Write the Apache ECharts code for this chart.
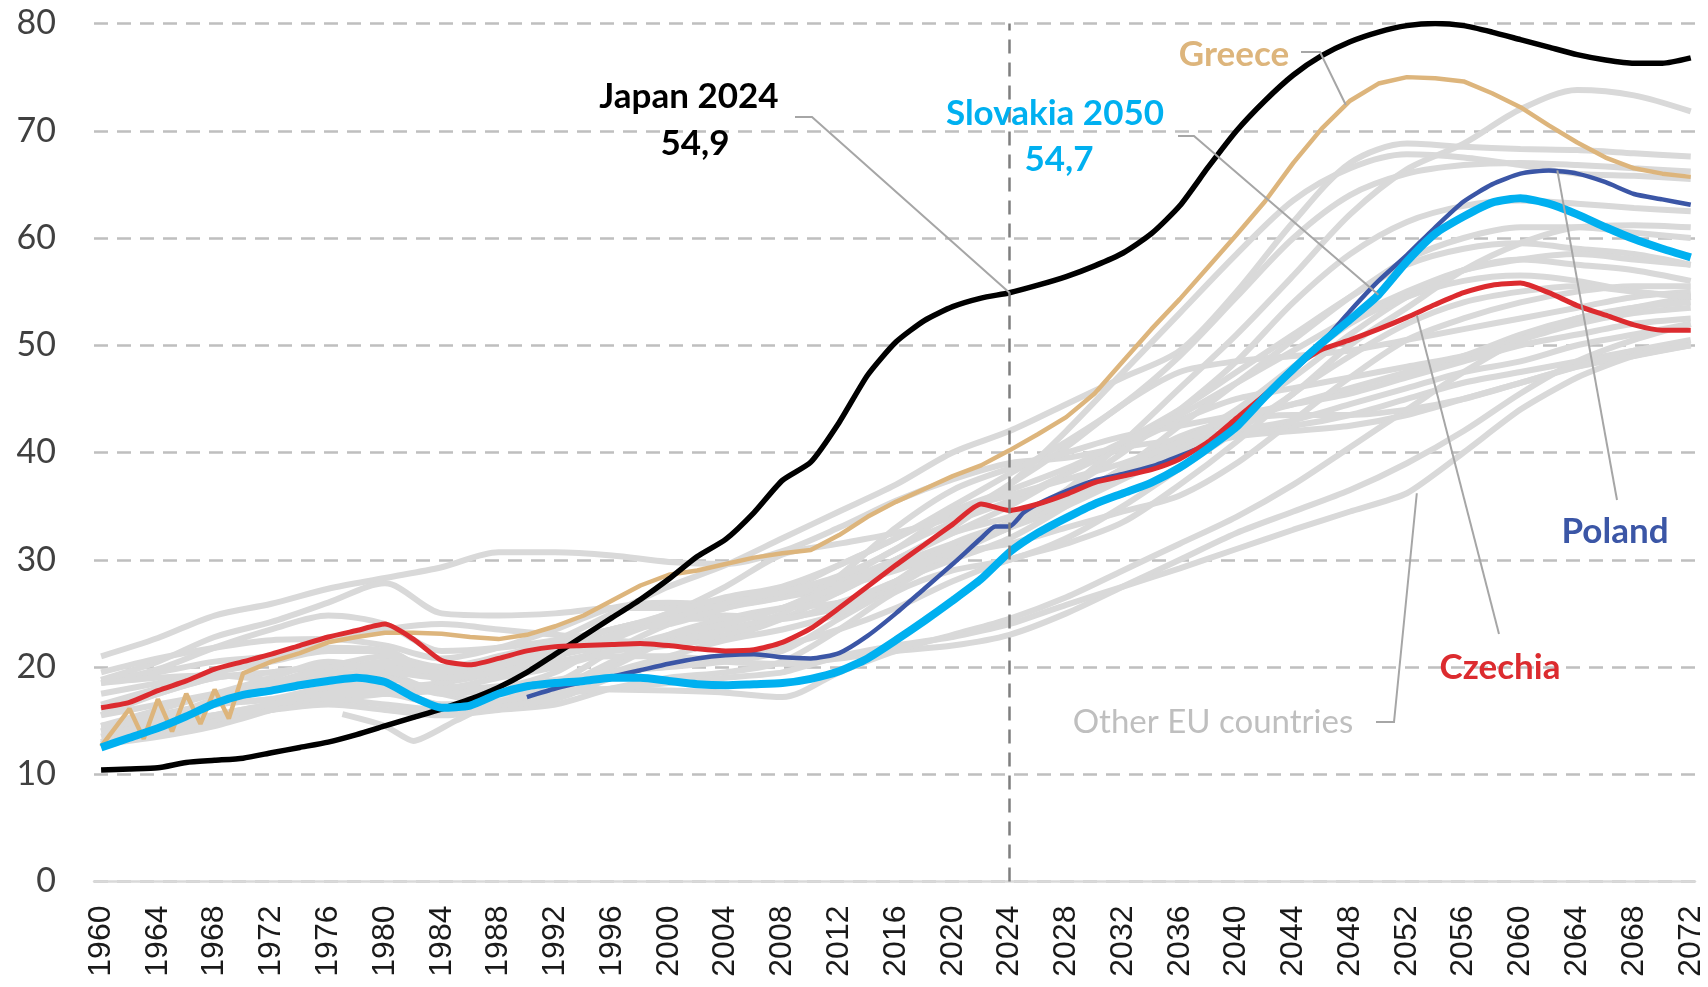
<!DOCTYPE html>
<html>
<head>
<meta charset="utf-8">
<script src="https://cdn.jsdelivr.net/npm/echarts@6/dist/echarts.min.js"></script>
<style>
  html, body { margin: 0; padding: 0; background: #fff; }
  #chart { width: 1708px; height: 987px; }
</style>
</head>
<body>
<div id="chart"></div>
<script>
// x-axis label years (every 4th year)
const labelYears = [1960, 1964, 1968, 1972, 1976, 1980, 1984, 1988, 1992, 1996, 2000, 2004, 2008, 2012,
  2016, 2020, 2024, 2028, 2032, 2036, 2040, 2044, 2048, 2052, 2056, 2060, 2064, 2068, 2072];

// years read every 2 years for the highlighted countries
const years2 = [1960, 1962, 1964, 1966, 1968, 1970, 1972, 1974, 1976, 1978, 1980, 1982, 1984, 1986, 1988,
  1990, 1992, 1994, 1996, 1998, 2000, 2002, 2004, 2006, 2008, 2010, 2012, 2014, 2016, 2018, 2020, 2022,
  2024, 2026, 2028, 2030, 2032, 2034, 2036, 2038, 2040, 2042, 2044, 2046, 2048, 2050, 2052, 2054, 2056,
  2058, 2060, 2062, 2064, 2066, 2068, 2070, 2072];

const japan = [10.4, 10.5, 10.6, 11.1, 11.3, 11.5, 12.0, 12.5, 13.0, 13.7, 14.5, 15.3, 16.1, 17.0, 18.1,
  19.5, 21.2, 22.9, 24.6, 26.3, 28.2, 30.3, 31.9, 34.4, 37.4, 39.1, 42.8, 47.2, 50.3, 52.3, 53.6, 54.4,
  54.9, 55.6, 56.4, 57.4, 58.6, 60.4, 63.0, 66.6, 70.0, 72.8, 75.2, 77.0, 78.3, 79.2, 79.8, 80.0, 79.8,
  79.2, 78.5, 77.8, 77.1, 76.6, 76.3, 76.3, 76.8];

const slovakia = [12.5, 13.4, 14.3, 15.4, 16.6, 17.4, 17.8, 18.3, 18.7, 19.0, 18.6, 17.2, 16.2, 16.4, 17.5,
  18.2, 18.5, 18.7, 19.0, 19.0, 18.7, 18.4, 18.3, 18.4, 18.5, 18.9, 19.6, 20.8, 22.5, 24.3, 26.2, 28.2,
  30.7, 32.5, 33.9, 35.2, 36.2, 37.2, 38.6, 40.4, 42.4, 45.2, 47.8, 50.2, 52.4, 54.7, 57.8, 60.4, 62.0,
  63.3, 63.7, 63.2, 62.2, 61.0, 59.9, 59.0, 58.2];

const czechia = [16.2, 16.7, 17.8, 18.7, 19.8, 20.5, 21.2, 22.0, 22.8, 23.4, 24.0, 22.6, 20.6, 20.2, 20.8,
  21.5, 21.9, 22.0, 22.1, 22.2, 22.0, 21.7, 21.5, 21.6, 22.3, 23.6, 25.5, 27.5, 29.5, 31.4, 33.3, 35.2,
  34.6, 35.2, 36.1, 37.2, 37.8, 38.4, 39.4, 41.0, 43.2, 45.4, 47.9, 49.6, 50.5, 51.5, 52.6, 53.8, 54.9,
  55.6, 55.8, 54.9, 53.7, 52.8, 51.9, 51.4, 51.4];

// Poland starts in 1990, with the step around 2023-2024
const polandYears = [1990, 1992, 1994, 1996, 1998, 2000, 2002, 2004, 2006, 2008, 2010, 2012, 2014, 2016,
  2018, 2020, 2022, 2023, 2024, 2025, 2026, 2028, 2030, 2032, 2034, 2036, 2038, 2040, 2042, 2044, 2046,
  2048, 2050, 2052, 2054, 2056, 2058, 2060, 2062, 2064, 2066, 2068, 2070, 2072];
const poland = [17.2, 18.0, 18.6, 19.1, 19.7, 20.3, 20.8, 21.1, 21.2, 20.9, 20.8, 21.3, 22.9, 25.0,
  27.3, 29.6, 32.0, 33.1, 33.1, 34.4, 35.2, 36.4, 37.4, 38.0, 38.7, 39.7, 40.8, 43.0, 45.4, 47.6, 50.2,
  53.2, 56.0, 58.4, 61.0, 63.4, 65.0, 66.0, 66.3, 66.0, 65.2, 64.1, 63.6, 63.1];

// Greece has the yearly zigzag in the 1960s
const greeceYears = [1960, 1962, 1963, 1964, 1965, 1966, 1967, 1968, 1969, 1970, 1972, 1974, 1976, 1978,
  1980, 1982, 1984, 1986, 1988, 1990, 1992, 1994, 1996, 1998, 2000, 2002, 2004, 2006, 2008, 2010, 2012,
  2014, 2016, 2018, 2020, 2022, 2024, 2026, 2028, 2030, 2032, 2034, 2036, 2038, 2040, 2042, 2044, 2046,
  2048, 2050, 2052, 2054, 2056, 2058, 2060, 2062, 2064, 2066, 2068, 2070, 2072];
const greece = [12.6, 16.1, 13.3, 17.0, 14.0, 17.5, 14.7, 17.9, 15.2, 19.4, 20.5, 21.3, 22.3, 22.8,
  23.2, 23.2, 23.1, 22.8, 22.6, 23.0, 23.8, 24.8, 26.2, 27.6, 28.6, 29.0, 29.6, 30.2, 30.6, 30.9, 32.3,
  34.0, 35.4, 36.6, 37.8, 38.8, 40.2, 41.7, 43.3, 45.5, 48.5, 51.5, 54.3, 57.3, 60.3, 63.4, 67.0, 70.2,
  72.8, 74.4, 75.0, 74.9, 74.6, 73.5, 72.2, 70.5, 68.9, 67.5, 66.5, 66.0, 65.7];

// other EU countries, read every 4 years (same years as labelYears)
const others = [
  [21.0, 22.7, 24.8, 25.9, 27.3, 28.3, 29.3, 30.7, 30.7, 30.4, 29.8, 29.6, 30.8, 33.0, 35.5, 37.5, 39.0, 39.5, 40.5, 41.2, 42.0, 42.5, 43.5, 45.0, 46.5, 47.5, 48.5, 49.5, 50.5],
  [18.5, 19.8, 21.8, 23.5, 24.8, 24.0, 21.5, 21.8, 22.5, 23.5, 25.0, 27.5, 30.5, 31.5, 32.5, 34.0, 37.0, 40.5, 44.5, 47.5, 48.5, 49.0, 49.5, 50.5, 51.5, 52.5, 53.5, 54.5, 55.0],
  [18.8, 20.5, 22.8, 24.2, 26.0, 27.8, 25.0, 24.8, 25.0, 25.5, 25.5, 26.0, 27.0, 28.0, 29.5, 31.0, 33.0, 35.5, 38.5, 41.0, 43.0, 44.5, 46.0, 47.5, 49.0, 51.0, 52.5, 53.5, 54.5],
  [19.5, 20.8, 21.8, 22.5, 22.6, 22.0, 20.8, 21.8, 23.5, 25.5, 26.0, 25.8, 26.5, 27.5, 29.0, 31.0, 33.0, 35.5, 38.0, 40.5, 42.0, 43.0, 44.5, 46.0, 47.5, 48.5, 50.0, 51.0, 52.0],
  [18.8, 19.5, 20.5, 21.0, 21.8, 21.5, 19.5, 20.5, 21.8, 23.5, 24.5, 24.5, 25.5, 28.0, 31.0, 33.5, 35.5, 38.0, 40.5, 43.0, 45.0, 46.0, 47.0, 48.0, 49.0, 50.5, 52.0, 53.0, 53.5],
  [16.5, 18.0, 19.5, 21.0, 22.5, 23.5, 24.0, 23.5, 23.0, 22.5, 22.2, 22.8, 24.5, 27.0, 29.5, 31.5, 33.0, 35.0, 37.5, 40.0, 41.5, 42.0, 42.5, 43.5, 45.0, 46.5, 48.0, 49.5, 50.0],
  [17.5, 18.5, 19.5, 20.5, 21.5, 21.5, 18.5, 17.5, 18.5, 21.5, 24.0, 25.5, 26.5, 28.0, 30.0, 32.5, 35.0, 38.0, 41.0, 44.0, 47.5, 51.0, 54.5, 57.5, 59.0, 59.5, 59.0, 58.5, 57.5],
  [16.0, 17.5, 19.0, 19.5, 20.0, 19.5, 17.5, 16.8, 17.5, 20.0, 22.5, 24.0, 25.5, 27.0, 30.0, 32.5, 34.0, 36.0, 38.0, 40.5, 43.5, 47.0, 51.0, 54.5, 57.0, 58.0, 57.5, 57.0, 56.0],
  [13.5, 15.0, 17.0, 18.5, 20.0, 21.0, 20.0, 20.0, 20.5, 21.5, 22.0, 23.0, 24.5, 25.5, 28.0, 30.5, 31.5, 33.0, 34.5, 36.0, 39.0, 43.0, 47.0, 50.5, 52.5, 54.0, 55.0, 55.5, 55.5],
  [15.5, 17.5, 19.0, 19.5, 20.0, 20.0, 19.5, 19.5, 20.5, 21.0, 21.0, 20.5, 20.3, 20.8, 21.5, 22.0, 23.0, 25.0, 27.5, 30.0, 32.5, 34.5, 36.5, 39.0, 42.0, 45.5, 48.5, 50.5, 52.0],
  [18.5, 19.0, 19.2, 18.8, 18.5, 18.2, 17.8, 17.9, 18.0, 17.9, 17.8, 17.6, 17.2, 19.5, 21.5, 23.0, 24.5, 26.5, 29.0, 31.5, 34.0, 37.0, 40.5, 44.0, 47.5, 50.5, 52.5, 53.5, 54.0],
  [14.5, 15.5, 16.5, 17.0, 17.5, 17.5, 17.8, 18.2, 18.8, 19.5, 20.0, 20.5, 21.5, 24.5, 27.5, 30.5, 33.0, 35.5, 38.5, 41.5, 43.0, 43.5, 43.5, 44.0, 45.0, 46.5, 48.0, 49.0, 50.0],
  [12.8, 13.8, 15.3, 16.5, 17.5, 18.0, 18.5, 19.5, 21.0, 22.0, 22.3, 23.5, 25.0, 28.5, 33.0, 36.5, 38.5, 40.0, 41.5, 42.5, 43.5, 44.5, 45.5, 47.0, 48.5, 50.0, 51.0, 52.0, 52.5],
  [14.0, 15.0, 16.5, 18.0, 19.5, 20.5, 20.0, 21.0, 22.5, 25.0, 27.5, 29.5, 32.0, 34.5, 37.0, 40.0, 42.0, 44.5, 47.0, 49.5, 55.0, 61.5, 67.0, 68.8, 68.5, 68.3, 68.2, 67.9, 67.6],
  [12.8, 13.8, 15.0, 16.0, 17.0, 17.5, 18.5, 20.0, 21.5, 23.5, 24.5, 24.8, 24.5, 26.0, 28.0, 31.0, 33.0, 36.5, 41.0, 46.0, 51.0, 56.5, 62.2, 66.4, 68.8, 72.0, 73.8, 73.3, 71.8],
  [12.8, 13.5, 14.5, 16.0, 17.5, 18.0, 18.5, 20.5, 22.0, 23.5, 24.0, 25.5, 27.0, 29.5, 32.0, 35.0, 38.0, 41.0, 44.5, 49.0, 54.5, 60.0, 64.0, 66.0, 66.8, 67.0, 66.8, 66.5, 66.2],
  [13.0, 14.5, 15.5, 16.5, 17.0, 16.5, 16.0, 16.5, 17.5, 19.5, 21.0, 22.5, 23.5, 25.0, 28.0, 31.5, 33.5, 36.5, 40.0, 44.0, 48.5, 54.0, 58.5, 61.5, 63.0, 63.5, 63.2, 62.8, 62.5],
  [14.5, 16.0, 17.5, 19.0, 20.5, 19.5, 17.5, 18.0, 19.5, 22.5, 24.5, 26.0, 27.0, 28.5, 31.0, 34.5, 36.5, 38.5, 41.0, 43.5, 46.5, 49.5, 52.5, 55.0, 57.0, 58.0, 58.5, 58.0, 57.5],
  [14.0, 15.5, 16.5, 17.0, 18.0, 18.0, 16.5, 16.8, 18.0, 20.5, 23.0, 24.5, 25.5, 26.0, 28.0, 30.0, 32.0, 35.0, 38.5, 42.5, 46.5, 50.5, 54.5, 58.0, 60.0, 61.0, 61.0, 60.5, 60.0],
  [12.8, 14.5, 16.5, 18.0, 19.0, 19.5, 19.0, 19.5, 21.0, 23.0, 25.0, 26.5, 27.5, 29.5, 32.0, 34.5, 36.0, 37.5, 39.0, 41.0, 44.0, 48.0, 52.0, 54.5, 56.0, 56.5, 56.0, 55.0, 54.5],
  [14.5, 15.0, 15.5, 16.0, 16.5, 16.0, 15.5, 16.0, 16.5, 18.0, 19.0, 19.5, 20.5, 23.5, 27.0, 29.0, 30.0, 32.0, 35.0, 38.5, 42.0, 45.5, 50.0, 53.5, 57.0, 59.5, 61.0, 61.2, 61.0],
  [13.0, 14.0, 15.5, 16.5, 17.5, 17.5, 16.5, 16.5, 17.0, 19.0, 20.5, 21.0, 22.0, 23.5, 25.5, 28.0, 30.0, 31.5, 33.5, 37.0, 41.0, 45.5, 49.0, 52.0, 54.0, 55.0, 55.5, 55.0, 54.5],
  [15.5, 16.5, 17.5, 18.5, 19.5, 19.0, 18.0, 19.0, 20.0, 21.5, 23.0, 24.0, 25.5, 27.5, 30.0, 33.0, 37.0, 42.0, 47.5, 53.0, 58.5, 63.5, 66.5, 67.8, 67.5, 66.8, 66.0, 65.8, 65.5]
];

// one grey country whose series starts in 1977
const lateYears = [1977, 1980, 1982, 1985, 1988, 1992, 1996, 2000, 2004, 2008, 2012, 2016, 2020, 2024,
  2028, 2032, 2036, 2040, 2044, 2048, 2052, 2056, 2060, 2064, 2068, 2072];
const lateGrey = [15.6, 14.5, 13.1, 15.0, 16.8, 17.5, 18.0, 18.5, 19.0, 19.5, 21.0, 22.0, 22.8, 24.0,
  25.8, 27.5, 29.2, 31.0, 32.8, 34.5, 36.2, 40.0, 44.0, 47.0, 49.0, 50.0];

const pairs = (xs, ys) => xs.map((x, i) => [x, ys[i]]);

const chart = echarts.init(document.getElementById("chart"));

const series = [];
others.forEach((vals, i) => {
  series.push({
    name: "other" + i,
    type: "line",
    data: pairs(labelYears, vals),
    showSymbol: false,
    smooth: 0.3,
    lineStyle: { color: "#d9d9d9", width: 6 },
  });
});
series.push({
  name: "otherLate",
  type: "line",
  data: pairs(lateYears, lateGrey),
  showSymbol: false,
  smooth: 0.2,
  lineStyle: { color: "#d9d9d9", width: 6 },
});
series.push({
  name: "Greece",
  type: "line",
  data: pairs(greeceYears, greece),
  showSymbol: false,
  lineStyle: { color: "#ddb57c", width: 4.5 },
});
series.push({
  name: "Japan",
  type: "line",
  data: pairs(years2, japan),
  showSymbol: false,
  smooth: 0.2,
  lineStyle: { color: "#000000", width: 5.5 },
  markLine: {
    silent: true,
    symbol: ["none", "none"],
    label: { show: false },
    lineStyle: { color: "#7f7f7f", type: [14, 9], width: 2.5 },
    data: [{ xAxis: 2024 }],
  },
});
series.push({
  name: "Poland",
  type: "line",
  data: pairs(polandYears, poland),
  showSymbol: false,
  smooth: 0.2,
  lineStyle: { color: "#3b56a6", width: 4.5 },
});
series.push({
  name: "Czechia",
  type: "line",
  data: pairs(years2, czechia),
  showSymbol: false,
  smooth: 0.2,
  lineStyle: { color: "#dc2b2f", width: 5 },
});
series.push({
  name: "Slovakia",
  type: "line",
  data: pairs(years2, slovakia),
  showSymbol: false,
  smooth: 0.2,
  lineStyle: { color: "#00b0f0", width: 8 },
});

chart.setOption({
  animation: false,
  backgroundColor: "#ffffff",
  grid: { left: 94, right: 13, top: 23.5, bottom: 105.5 },
  xAxis: {
    type: "value",
    min: 1959.5,
    max: 2072.3,
    splitLine: { show: false },
    axisTick: { show: false },
    axisLine: { show: true, lineStyle: { color: "#d9d9d9", width: 2.5 } },
    axisLabel: {
      customValues: labelYears,
      rotate: 90,
      margin: 24,
      fontSize: 32,
      fontFamily: "Liberation Sans",
      color: "#1a1a1a",
      formatter: (v) => String(v),
    },
  },
  yAxis: {
    type: "value",
    min: 0,
    max: 80,
    interval: 10,
    axisLine: { show: false },
    axisTick: { show: false },
    splitLine: { lineStyle: { color: "#bfbfbf", type: [14, 9], width: 2.5 } },
    axisLabel: { fontSize: 34, fontFamily: "Lato", color: "#404040", margin: 38 },
  },
  series: series,
});

// annotations: labels and leader lines
const px = (p) => chart.convertToPixel({ xAxisIndex: 0, yAxisIndex: 0 }, p);
const leaderColor = "#a6a6a6";

function label(text, x, y, color, bold, size) {
  return {
    type: "text",
    x: x,
    y: y,
    z: 100,
    silent: true,
    style: {
      text: text,
      fill: color,
      font: (bold ? "bold " : "") + size + "px Lato",
      align: "center",
      verticalAlign: "middle",
      textAlign: "center",
      textVerticalAlign: "middle",
    },
  };
}
function leader(points) {
  return {
    type: "polyline",
    z: 90,
    silent: true,
    shape: { points: points },
    style: { stroke: leaderColor, lineWidth: 2, fill: null },
  };
}

chart.setOption({
  graphic: [
    leader([[795, 117], [812, 117], px([2024, 54.9])]),
    leader([[1178, 136], [1194, 136], px([2050, 54.7])]),
    leader([[1301, 52], [1320, 52], px([2047.7, 72.4])]),
    leader([[1617, 500], px([2062.6, 66.3])]),
    leader([[1499, 634], px([2052.7, 52.8])]),
    leader([[1376, 722], [1394, 722], px([2052.7, 36.2])]),
    label("Japan 2024", 689, 97, "#000000", true, 35),
    label("54,9", 695, 144, "#000000", true, 35),
    label("Slovakia 2050", 1055, 114, "#00b0f0", true, 35),
    label("54,7", 1059, 160, "#00b0f0", true, 35),
    label("Greece", 1234, 55, "#ddb57c", true, 35),
    label("Poland", 1615, 532, "#3b56a6", true, 35),
    label("Czechia", 1500, 668, "#dc2b2f", true, 35),
    label("Other EU countries", 1213, 722, "#bfbfbf", false, 33),
  ],
});
</script>
</body>
</html>
